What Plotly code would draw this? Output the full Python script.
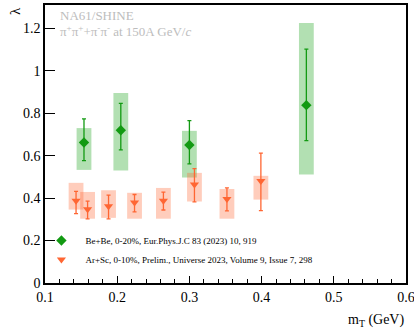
import plotly.graph_objects as go

# Be+Be 0-20%
be_x = [0.154, 0.205, 0.300, 0.462]
be_y = [0.662, 0.720, 0.650, 0.838]
be_err_hi = [0.773, 0.846, 0.765, 1.102]
be_err_lo = [0.577, 0.627, 0.561, 0.671]
be_sys_hi = [0.730, 0.895, 0.717, 1.225]
be_sys_lo = [0.533, 0.530, 0.497, 0.511]

# Ar+Sc 0-10%
ar_x = [0.143, 0.159, 0.188, 0.224, 0.264, 0.307, 0.352, 0.399]
ar_y = [0.387, 0.348, 0.362, 0.379, 0.388, 0.464, 0.396, 0.481]
ar_err_hi = [0.432, 0.386, 0.414, 0.417, 0.428, 0.539, 0.448, 0.612]
ar_err_lo = [0.327, 0.302, 0.302, 0.335, 0.344, 0.382, 0.340, 0.341]
ar_sys_hi = [0.472, 0.429, 0.437, 0.425, 0.448, 0.519, 0.443, 0.505]
ar_sys_lo = [0.346, 0.303, 0.307, 0.303, 0.303, 0.384, 0.303, 0.393]

x_ticks = [0.1, 0.2, 0.3, 0.4, 0.5, 0.6]
x_ticklabels = ["0.1", "0.2", "0.3", "0.4", "0.5", "0.6"]
y_ticks = [0, 0.2, 0.4, 0.6, 0.8, 1.0, 1.2]
y_ticklabels = ["0", "0.2", "0.4", "0.6", "0.8", "1", "1.2"]

be_label = "Be+Be, 0-20%, Eur.Phys.J.C 83 (2023) 10, 919"
ar_label = "Ar+Sc, 0-10%, Prelim., Universe 2023, Volume 9, Issue 7, 298"

GREEN = "#129a12"
ORANGE = "#ff6633"
BOXW = 0.0205
FONT = "Liberation Serif"

fig = go.Figure()

fig.add_trace(go.Bar(
    x=be_x, y=[h - l for h, l in zip(be_sys_hi, be_sys_lo)], base=be_sys_lo,
    width=BOXW, marker=dict(color="rgba(0,153,0,0.30)", line=dict(width=0)),
    showlegend=False, hoverinfo="skip"))
fig.add_trace(go.Bar(
    x=ar_x, y=[h - l for h, l in zip(ar_sys_hi, ar_sys_lo)], base=ar_sys_lo,
    width=BOXW, marker=dict(color="rgba(255,102,51,0.33)", line=dict(width=0)),
    showlegend=False, hoverinfo="skip"))

fig.add_trace(go.Scatter(
    x=be_x, y=be_y, mode="markers", name=be_label,
    marker=dict(symbol="diamond", size=8, color=GREEN),
    error_y=dict(type="data", symmetric=False,
                 array=[h - v for h, v in zip(be_err_hi, be_y)],
                 arrayminus=[v - l for v, l in zip(be_y, be_err_lo)],
                 color=GREEN, thickness=1.3, width=2)))
fig.add_trace(go.Scatter(
    x=ar_x, y=ar_y, mode="markers", name=ar_label,
    marker=dict(symbol="triangle-down", size=8, color=ORANGE),
    error_y=dict(type="data", symmetric=False,
                 array=[h - v for h, v in zip(ar_err_hi, ar_y)],
                 arrayminus=[v - l for v, l in zip(ar_y, ar_err_lo)],
                 color=ORANGE, thickness=1.3, width=2)))

fig.update_layout(
    width=414, height=329,
    margin=dict(l=45, r=8, t=5, b=46),
    paper_bgcolor="white", plot_bgcolor="white",
    barmode="overlay",
    font=dict(family=FONT, color="black"),
    showlegend=True,
    legend=dict(x=-0.021, y=0.205, xanchor="left", yanchor="top",
                bgcolor="rgba(0,0,0,0)", font=dict(size=9, family=FONT),
                itemwidth=38, tracegroupgap=0),
    xaxis=dict(range=[0.1, 0.6], tickvals=x_ticks, ticktext=x_ticklabels,
               ticks="inside", ticklen=7, tickwidth=1, tickcolor="black",
               minor=dict(ticks="inside", ticklen=4, dtick=0.02, tickcolor="black"),
               showline=True, linecolor="black", linewidth=1.5, mirror=True,
               showgrid=False, zeroline=False, automargin=False,
               ticklabeloverflow="allow",
               tickfont=dict(size=14, family=FONT)),
    yaxis=dict(range=[0, 1.31], tickvals=y_ticks, ticktext=y_ticklabels,
               ticks="inside", ticklen=10, tickwidth=1, tickcolor="black",
               showline=True, linecolor="black", linewidth=1.5, mirror=True,
               showgrid=False, zeroline=False, automargin=False,
               tickfont=dict(size=14, family=FONT)),
    annotations=[
        dict(text="m<sub>T</sub> (GeV)", xref="paper", yref="paper",
             x=1.0, y=-0.135, xanchor="right", yanchor="middle", showarrow=False,
             font=dict(size=14, family=FONT)),
        dict(text="λ", xref="paper", yref="paper", x=-0.083, y=1.0,
             xanchor="center", yanchor="top", showarrow=False, textangle=-90,
             font=dict(size=15, family=FONT)),
        dict(text="NA61/SHINE", xref="paper", yref="paper", x=0.035, y=0.998,
             xanchor="left", yanchor="top", showarrow=False,
             font=dict(size=13, family=FONT, color="#bdbdbd")),
        dict(text="π<sup>+</sup>π<sup>+</sup>+π<sup>-</sup>π<sup>-</sup> at 150A GeV/<i>c</i>",
             xref="paper", yref="paper", x=0.035, y=0.942,
             xanchor="left", yanchor="top", showarrow=False,
             font=dict(size=13, family=FONT, color="#bdbdbd")),
    ],
)

fig.write_html("out.html", config={"displayModeBar": False},
               post_script="document.body.style.margin='0';")
